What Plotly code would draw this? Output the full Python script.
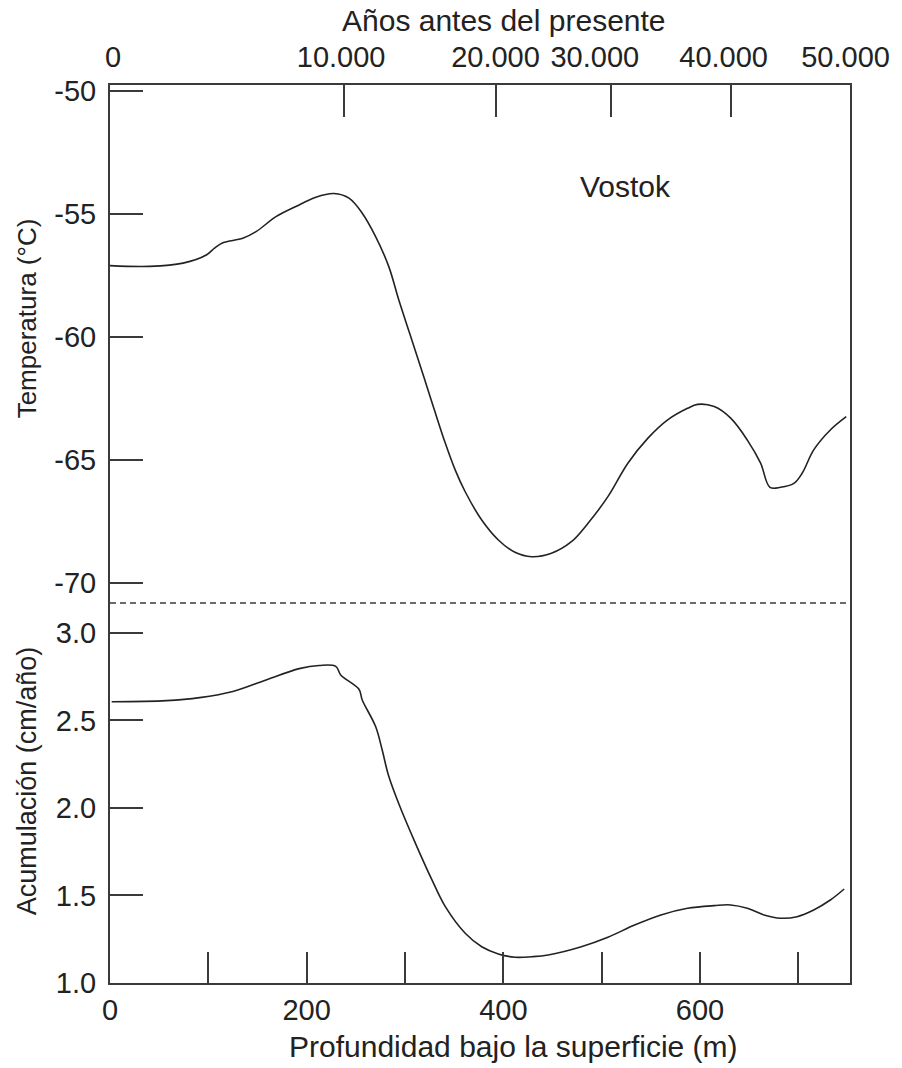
import plotly.graph_objects as go

# --- Data ---
# Temperature curve (Vostok): depth (m) vs temperature (°C)
temp_depth = [0, 40.5, 74.3, 97.9, 106.3, 114.8, 135.0, 148.5, 168.8, 189.0, 209.3, 227.8,
              243.0, 256.5, 270.1, 283.5, 293.7, 304.7, 319.0, 329.9, 341.0, 351.1, 361.2,
              378.0, 394.9, 411.8, 428.7, 448.9, 469.2, 486.1, 506.3, 526.6, 546.8, 567.1,
              587.3, 597.5, 614.4, 631.2, 648.1, 661.6, 671.1, 681.9, 695.4, 703.8, 715.6,
              732.5, 748.7]
temp_vals = [-57.10, -57.13, -57.00, -56.67, -56.39, -56.17, -55.99, -55.72, -55.11, -54.70,
             -54.32, -54.17, -54.36, -54.97, -55.92, -57.14, -58.50, -59.85, -61.61, -62.97,
             -64.32, -65.41, -66.29, -67.44, -68.25, -68.75, -68.93, -68.79, -68.32, -67.57,
             -66.49, -65.13, -64.12, -63.37, -62.90, -62.74, -62.83, -63.30, -64.19, -65.13,
             -66.11, -66.11, -65.95, -65.54, -64.59, -63.78, -63.24]

# Accumulation curve: depth (m) vs accumulation (cm/año)
acc_depth = [1.7, 57.4, 91.1, 124.9, 158.7, 192.4, 212.7, 229.6, 234.6, 253.2, 256.5, 270.1,
             276.8, 283.0, 295.0, 310.6, 327.4, 341.0, 361.2, 378.0, 394.9, 411.8, 428.7,
             445.6, 479.3, 506.3, 533.4, 560.3, 587.3, 614.4, 631.2, 648.1, 665.0, 681.9,
             698.7, 715.6, 732.5, 746.6]
acc_vals = [2.607, 2.613, 2.630, 2.665, 2.731, 2.796, 2.814, 2.809, 2.760, 2.678, 2.617, 2.465,
            2.331, 2.190, 2.005, 1.798, 1.589, 1.436, 1.284, 1.207, 1.166, 1.147, 1.150,
            1.160, 1.207, 1.261, 1.331, 1.389, 1.427, 1.442, 1.446, 1.427, 1.389, 1.370,
            1.379, 1.417, 1.474, 1.537]

# Axes ticks / labels
depth_ticks = [0, 100, 200, 300, 400, 500, 600, 700]
depth_ticktext = ["0", "", "200", "", "400", "", "600", ""]
temp_ticks = [-50, -55, -60, -65, -70]
temp_ticktext = ["-50", "-55", "-60", "-65", "-70"]
acc_ticks = [1.0, 1.5, 2.0, 2.5, 3.0]
acc_ticktext = ["1.0", "1.5", "2.0", "2.5", "3.0"]
age_tick_depth = [238, 393, 509, 631]
age_label_depth = [3, 235, 392, 493, 624, 748]
age_labels = ["0", "10.000", "20.000", "30.000", "40.000", "50.000"]

FONT = "Liberation Sans, Arial, sans-serif"
INK = "#222222"
FRAME = "#3a3a3a"
TICKFS = 29

split = 0.4232
x_range = [0, 752.5]

fig = go.Figure()
fig.add_trace(go.Scatter(x=temp_depth, y=temp_vals, mode="lines",
                         line=dict(color=INK, width=1.6, shape="spline", smoothing=1.0),
                         xaxis="x", yaxis="y", showlegend=False, hoverinfo="skip"))
fig.add_trace(go.Scatter(x=acc_depth, y=acc_vals, mode="lines",
                         line=dict(color=INK, width=1.6, shape="spline", smoothing=1.0),
                         xaxis="x", yaxis="y2", showlegend=False, hoverinfo="skip"))
# invisible traces to register top axes
fig.add_trace(go.Scatter(x=[None], y=[None], xaxis="x2", yaxis="y", showlegend=False))
fig.add_trace(go.Scatter(x=[None], y=[None], xaxis="x3", yaxis="y", showlegend=False))

fig.update_layout(
    width=902, height=1068,
    margin=dict(l=110, r=49, t=85, b=85),
    paper_bgcolor="white", plot_bgcolor="white",
    font=dict(family=FONT, color=INK, size=TICKFS),
    showlegend=False,
    xaxis=dict(domain=[0, 1], range=x_range, anchor="y2", side="bottom",
               showline=True, linecolor=FRAME, linewidth=2, mirror=False,
               showgrid=False, zeroline=False,
               tickmode="array", tickvals=depth_ticks, ticktext=depth_ticktext,
               ticks="inside", ticklen=31, tickwidth=1.6, tickcolor=FRAME,
               tickfont=dict(size=TICKFS, family=FONT, color=INK),
               ticklabelstandoff=0),
    xaxis2=dict(overlaying="x", range=x_range, anchor="y", side="top",
                showline=True, linecolor=FRAME, linewidth=2,
                showgrid=False, zeroline=False,
                tickmode="array", tickvals=age_tick_depth, showticklabels=False,
                ticks="inside", ticklen=32, tickwidth=1.6, tickcolor=FRAME),
    xaxis3=dict(overlaying="x", range=x_range, anchor="y", side="top",
                showline=False, showgrid=False, zeroline=False,
                tickmode="array", tickvals=age_label_depth, ticktext=age_labels,
                ticks="", tickfont=dict(size=TICKFS, family=FONT, color=INK),
                ticklabelstandoff=11),
    yaxis=dict(domain=[split, 1], range=[-70.81, -49.76], anchor="x",
               showline=True, linecolor=FRAME, linewidth=2, mirror=True,
               showgrid=False, zeroline=False,
               tickmode="array", tickvals=temp_ticks, ticktext=temp_ticktext,
               ticks="inside", ticklen=33, tickwidth=1.6, tickcolor=FRAME,
               tickfont=dict(size=TICKFS, family=FONT, color=INK),
               ticklabelstandoff=6),
    yaxis2=dict(domain=[0, split], range=[1.0, 3.171], anchor="x",
                showline=True, linecolor=FRAME, linewidth=2, mirror=True,
                showgrid=False, zeroline=False,
                tickmode="array", tickvals=acc_ticks, ticktext=acc_ticktext,
                ticks="inside", ticklen=33, tickwidth=1.6, tickcolor=FRAME,
                tickfont=dict(size=TICKFS, family=FONT, color=INK),
                ticklabelstandoff=6),
)

# dashed separator between panels
fig.add_shape(type="line", xref="paper", yref="paper", x0=0, x1=0.996, y0=split, y1=split,
              line=dict(color=FRAME, width=1.6, dash="6px,4px"))

# titles as annotations
fig.add_annotation(text="Años antes del presente", xref="paper", yref="paper",
                   x=(506 - 110) / 743, y=1 + (85 - 21) / 898, xanchor="center", yanchor="middle",
                   showarrow=False, font=dict(size=30, family=FONT, color=INK))
fig.add_annotation(text="Profundidad bajo la superficie (m)", xref="paper", yref="paper",
                   x=(515 - 110) / 743, y=-(1046 - 983) / 898, xanchor="center", yanchor="middle",
                   showarrow=False, font=dict(size=30, family=FONT, color=INK))
fig.add_annotation(text="Temperatura (°C)", xref="paper", yref="paper",
                   x=-(110 - 27) / 743, y=(983 - 318) / 898, xanchor="center", yanchor="middle",
                   textangle=-90, showarrow=False, font=dict(size=26, family=FONT, color=INK))
fig.add_annotation(text="Acumulación (cm/año)", xref="paper", yref="paper",
                   x=-(110 - 27) / 743, y=(983 - 781) / 898, xanchor="center", yanchor="middle",
                   textangle=-90, showarrow=False, font=dict(size=27, family=FONT, color=INK))
fig.add_annotation(text="Vostok", xref="paper", yref="paper",
                   x=(628 - 110) / 743, y=(983 - 186) / 898, xanchor="center", yanchor="middle",
                   showarrow=False, font=dict(size=30, family=FONT, color=INK))

fig.write_html("out.html", config={"displayModeBar": False},
               post_script="document.body.style.margin='0';")
